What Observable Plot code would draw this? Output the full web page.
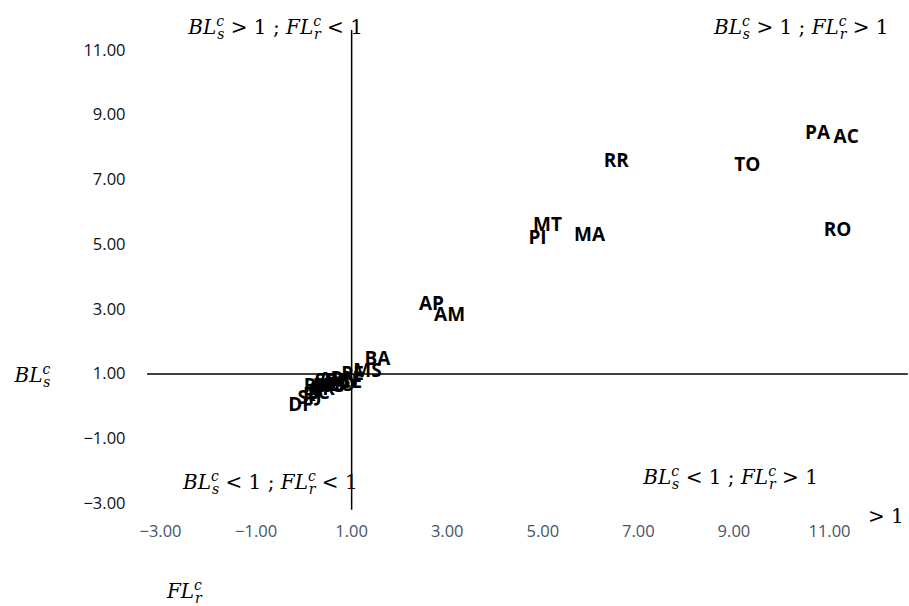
<!DOCTYPE html>
<html>
<head>
<meta charset="utf-8">
<script src="https://cdn.jsdelivr.net/npm/d3@7"></script>
<script src="https://cdn.jsdelivr.net/npm/@observablehq/plot@0.6"></script>
<style>
  html, body { margin: 0; padding: 0; background: #fff; }
  #chart svg { display: block; }
</style>
</head>
<body>
<div id="chart"></div>
<script>
// Brazilian states: forward linkage (FL_r^c) vs backward linkage (BL_s^c)
const states = ["PA","AC","TO","RR","MT","PI","MA","RO","AP","AM","BA","MS","PE","CE","RN","PB","AL","GO","ES","SE","MG","RS","PR","SC","RJ","SP","DF"];
const flr    = [10.75,11.35,9.28,6.54,5.10,4.89,5.98,11.17,2.67,3.05,1.54,1.33,1.02,0.98,0.85,0.72,0.56,0.77,0.64,0.45,0.52,0.24,0.39,0.31,0.18,0.10,-0.07];
const bls    = [8.44,8.34,7.45,7.60,5.62,5.22,5.31,5.47,3.18,2.84,1.48,1.11,1.02,0.77,0.86,0.80,0.83,0.65,0.65,0.80,0.62,0.62,0.55,0.43,0.37,0.25,0.06];

const xTicks = [-3,-1,1,3,5,7,9,11];
const yTicks = [-3,-1,1,3,5,7,9,11];

// quadrant annotations (math notation: NAME_sub^sup)
const quadText = ["BL_s^c > 1 ; FL_r^c < 1","BL_s^c > 1 ; FL_r^c > 1","BL_s^c < 1 ; FL_r^c < 1","BL_s^c < 1 ; FL_r^c > 1","> 1"];
const quadX    = [-0.59, 10.41, -0.70, 8.93, 12.18];
const quadY    = [11.71, 11.71, -2.35, -2.20, -3.40];

// axis titles
const titleText = ["BL_s^c","FL_r^c"];
const titleX    = [-5.68, -2.50];
const titleY    = [0.96, -5.72];

const data = states.map((s,i) => ({state:s, flr:flr[i], bls:bls[i]}));
const quads = quadText.map((t,i) => ({t, x:quadX[i], y:quadY[i]}));
const titles = titleText.map((t,i) => ({t, x:titleX[i], y:titleY[i]}));
const fmt = d3.format(".2f");

const plot = Plot.plot({
  width: 909,
  height: 606,
  marginLeft: 160,
  marginRight: 80,
  marginTop: 50,
  marginBottom: 103,
  style: {fontFamily: "'Open Sans', sans-serif", fontSize: "16px", background: "#fff", overflow: "visible"},
  x: {domain: [-3, 11]},
  y: {domain: [-3, 11]},
  marks: [
    Plot.axisX({ticks: xTicks, tickFormat: fmt, tickSize: 0, tickPadding: 22, color: "#44546A", label: null, fontSize: 16.5}),
    Plot.axisY({ticks: yTicks, tickFormat: fmt, tickSize: 0, tickPadding: 35, color: "#111", label: null, fontSize: 16.5}),
    Plot.ruleY([1], {x1: -3.27, x2: 12.65, stroke: "#000", strokeWidth: 1.5}),
    Plot.ruleX([1], {y1: -3.21, y2: 11.62, stroke: "#000", strokeWidth: 1.5}),
    Plot.text(data, {x: "flr", y: "bls", text: "state", fontWeight: "bold", fontSize: 19, fill: "#000"}),
    Plot.text(quads, {x: "x", y: "y", text: "t", fontSize: 20, fill: "#000", fontFamily: "'DejaVu Serif', serif"}),
    Plot.text(titles, {x: "x", y: "y", text: "t", fontSize: 20, fill: "#000", fontFamily: "'DejaVu Serif', serif"})
  ]
});

// convert NAME_sub^sup into real math-styled tspans
d3.select(plot).selectAll("text").each(function() {
  const el = d3.select(this);
  const s = this.textContent;
  if (!/[_^]/.test(s) && s !== "> 1") return;
  el.text("");
  const re = /([A-Z]+)_([a-z])\^([a-z])/g;
  let last = 0, m, shift = 0;
  const addPlain = (t) => {
    if (!t) return;
    const ts = el.append("tspan").text(t);
    if (shift) { ts.attr("dy", -shift); shift = 0; }
  };
  while ((m = re.exec(s)) !== null) {
    addPlain(s.slice(last, m.index));
    const main = el.append("tspan").attr("font-style", "italic").text(m[1]);
    if (shift) { main.attr("dy", -shift); shift = 0; }
    el.append("tspan").attr("font-style", "italic").attr("font-size", 14).attr("dy", -8).text(m[3]);
    el.append("tspan").attr("font-style", "italic").attr("font-size", 14).attr("dx", -7).attr("dy", 13).text(m[2]);
    shift = 5;
    last = m.index + m[0].length;
  }
  addPlain(s.slice(last));
});

document.getElementById("chart").appendChild(plot);
</script>
</body>
</html>
